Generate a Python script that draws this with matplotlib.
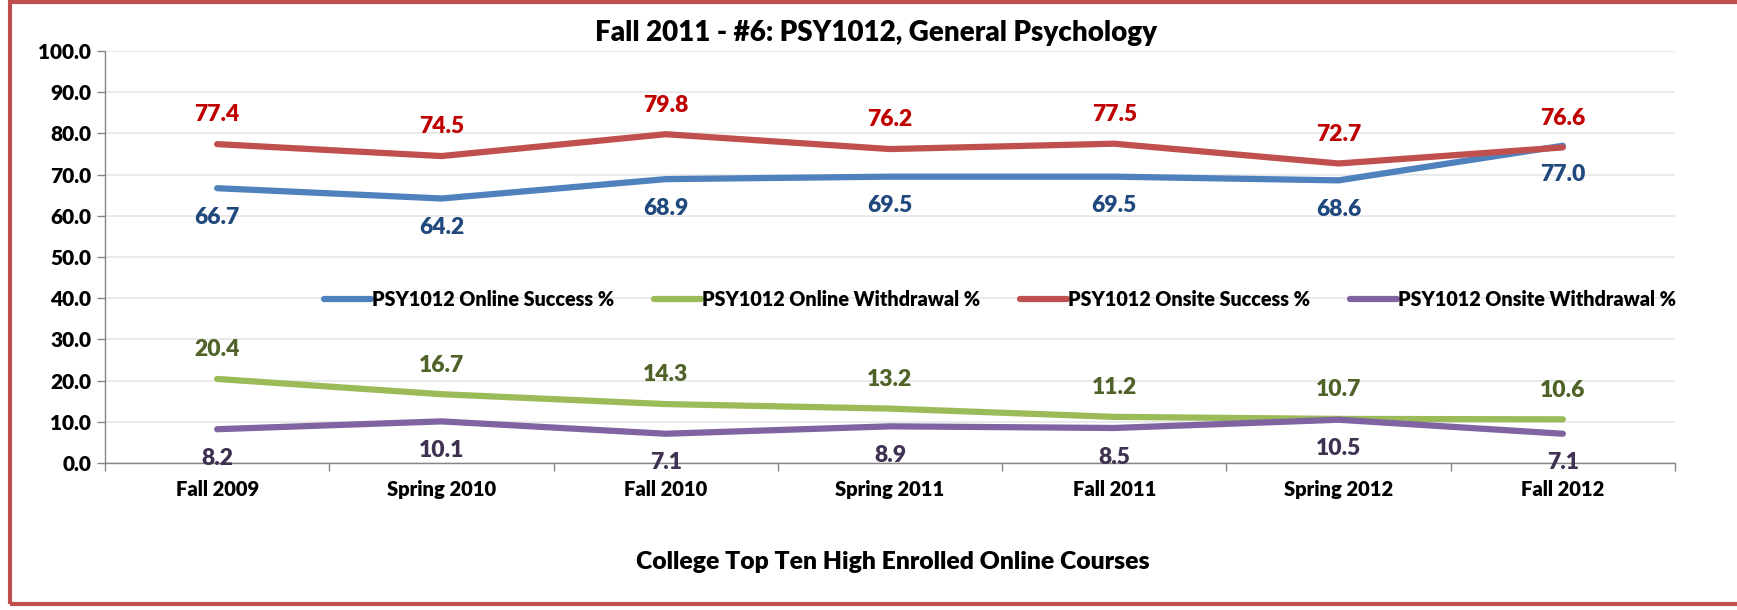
import matplotlib
matplotlib.use("Agg")
import matplotlib.pyplot as plt
from matplotlib.patches import Rectangle

plt.rcParams['font.family'] = ['Lato', 'DejaVu Sans']

categories = ["Fall 2009", "Spring 2010", "Fall 2010", "Spring 2011", "Fall 2011", "Spring 2012", "Fall 2012"]
online_success = [66.7, 64.2, 68.9, 69.5, 69.5, 68.6, 77.0]
online_withdrawal = [20.4, 16.7, 14.3, 13.2, 11.2, 10.7, 10.6]
onsite_success = [77.4, 74.5, 79.8, 76.2, 77.5, 72.7, 76.6]
onsite_withdrawal = [8.2, 10.1, 7.1, 8.9, 8.5, 10.5, 7.1]

series = [
    ("PSY1012 Online Success %", online_success, "#4F81BD", "#1F497D", -1),
    ("PSY1012 Online Withdrawal %", online_withdrawal, "#9BBB59", "#4F6228", 1),
    ("PSY1012 Onsite Success %", onsite_success, "#C0504D", "#C00000", 1),
    ("PSY1012 Onsite Withdrawal %", onsite_withdrawal, "#8064A2", "#3F3151", -1),
]

fig = plt.figure(figsize=(17.37, 6.10), dpi=100)
ax = fig.add_axes([105/1737, 1-463/610, (1675-105)/1737, (463-51)/610])

x = list(range(len(categories)))
handles = []
for name, vals, col, lcol, side in series:
    h, = ax.plot(x, vals, color=col, lw=4.5, solid_capstyle='round', label=name, zorder=3)
    handles.append(h)
    for xi, v in zip(x, vals):
        ax.annotate(f"{v:.1f}", (xi, v), xytext=(0, 21*side), textcoords='offset points',
                    ha='center', va='center', fontsize=16.5, fontweight='heavy', color=lcol, zorder=4)

ax.set_xlim(-0.5, len(categories)-0.5)
ax.set_ylim(0, 100)
ax.set_yticks(range(0, 101, 10))
ax.set_yticklabels([f"{v:.1f}" for v in range(0, 101, 10)], fontsize=15, fontweight='heavy')
ax.set_xticks(x)
ax.set_xticklabels(categories, fontsize=14.5, fontweight='heavy')
ax.set_xticks([i - 0.5 for i in range(len(categories)+1)], minor=True)
ax.tick_params(axis='x', which='major', length=0, pad=12)
ax.tick_params(axis='x', which='minor', length=6, color='#868686', width=1)
ax.tick_params(axis='y', length=6, color='#868686', width=1, pad=4)
ax.grid(axis='y', color='#e8e8e8', lw=1.3, zorder=0)
ax.set_axisbelow(True)
for s in ['top', 'right']:
    ax.spines[s].set_visible(False)
for s in ['left', 'bottom']:
    ax.spines[s].set_color('#868686')
    ax.spines[s].set_linewidth(1)

fig.text(876/1737, 1-33/610, "Fall 2011 - #6: PSY1012, General Psychology", ha='center', va='center',
         fontsize=20, fontweight='heavy')
fig.text(893/1737, 1-562/610, "College Top Ten High Enrolled Online Courses", ha='center', va='center',
         fontsize=17.8, fontweight='heavy')

leg = fig.legend(handles=handles, loc='center', bbox_to_anchor=(1000/1737, 1-299/610), ncol=4,
                 frameon=False, handlelength=2.4, handletextpad=0.05, columnspacing=2.0,
                 prop={'size': 14.2, 'weight': 'heavy'})

fig.patches.append(Rectangle((10/1737, 6/610), 1.2, 602/610, transform=fig.transFigure,
                             fill=False, edgecolor='#C0504D', lw=3, clip_on=False))

fig.savefig("out.png", dpi=100)
